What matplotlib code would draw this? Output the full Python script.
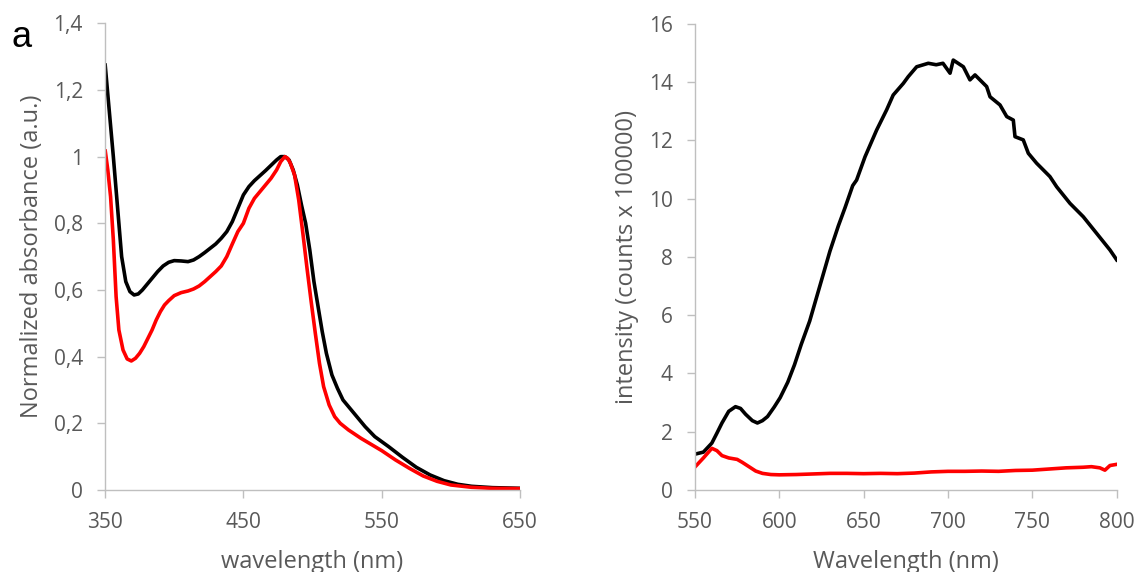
import matplotlib
matplotlib.use('Agg')
import matplotlib.pyplot as plt
from matplotlib.ticker import FuncFormatter

# --- absorbance (left panel) ---
abs_x_black = [350, 353, 356, 359, 362, 365, 368, 371, 374, 377, 380, 384, 388, 392, 396,
               400, 405, 410, 414, 418, 422, 426, 430, 434, 438, 442, 446, 450, 454, 458,
               462, 466, 470, 474, 477, 480, 483, 486, 489, 492, 495, 498, 501, 504, 507,
               510, 514, 518, 522, 526, 532, 538, 545, 555, 565, 575, 585, 595, 605, 615,
               630, 650]
abs_y_black = [1.28, 1.14, 1.0, 0.85, 0.70, 0.625, 0.595, 0.585, 0.588, 0.60, 0.615, 0.635,
               0.655, 0.672, 0.683, 0.688, 0.687, 0.685, 0.69, 0.70, 0.712, 0.725, 0.738,
               0.755, 0.775, 0.805, 0.845, 0.885, 0.91, 0.928, 0.943, 0.958, 0.974, 0.99,
               1.0, 1.0, 0.99, 0.96, 0.915, 0.855, 0.80, 0.72, 0.625, 0.55, 0.475, 0.41,
               0.345, 0.305, 0.27, 0.25, 0.22, 0.19, 0.16, 0.13, 0.098, 0.068, 0.045,
               0.028, 0.017, 0.011, 0.007, 0.005]

abs_x_red = [350, 352, 354, 356, 358, 360, 363, 366, 369, 372, 375, 378, 381, 384, 387,
             390, 393, 396, 400, 405, 410, 414, 418, 422, 426, 430, 434, 438, 442, 446,
             450, 454, 458, 462, 466, 470, 474, 477, 480, 482, 484, 487, 490, 493, 496,
             499, 502, 505, 508, 512, 516, 520, 526, 535, 550, 560, 570, 580, 590, 600,
             615, 630, 650]
abs_y_red = [1.022, 0.96, 0.88, 0.75, 0.58, 0.48, 0.42, 0.393, 0.387, 0.395, 0.41, 0.43,
             0.455, 0.48, 0.51, 0.535, 0.555, 0.568, 0.583, 0.592, 0.597, 0.603, 0.612,
             0.625, 0.64, 0.655, 0.672, 0.70, 0.738, 0.775, 0.80, 0.845, 0.875, 0.895,
             0.915, 0.935, 0.96, 0.985, 1.0, 0.995, 0.98, 0.945, 0.87, 0.77, 0.665,
             0.565, 0.47, 0.38, 0.31, 0.255, 0.22, 0.20, 0.18, 0.155, 0.118, 0.09,
             0.065, 0.042, 0.026, 0.015, 0.008, 0.005, 0.004]

# --- emission (right panel) ---
em_x_black = [550, 555, 560, 563, 566, 570, 574, 577, 580, 584, 587, 590, 593, 597, 600.5,
              605, 609, 613, 618, 622, 626, 630, 635, 639, 643.5, 645.8, 650.8, 657.7,
              663.6, 667.5, 673.5, 676.4, 681.4, 688.3, 693, 697, 701.2, 703.1, 709.1,
              713, 716, 722.9, 724.9, 730.8, 734.8, 738.7, 739.7, 744.6, 747.6, 752.5,
              760.4, 764.4, 772.3, 780.2, 788.1, 796, 800]
em_y_black = [1.23, 1.3, 1.61, 1.95, 2.3, 2.7, 2.86, 2.8, 2.6, 2.38, 2.3, 2.38, 2.52, 2.85,
              3.17, 3.7, 4.3, 5.0, 5.8, 6.6, 7.4, 8.2, 9.07, 9.7, 10.45, 10.64, 11.44,
              12.36, 13.05, 13.56, 13.96, 14.19, 14.53, 14.65, 14.6, 14.65, 14.31, 14.76,
              14.53, 14.08, 14.25, 13.85, 13.5, 13.22, 12.82, 12.7, 12.13, 12.02, 11.56,
              11.22, 10.76, 10.41, 9.84, 9.38, 8.81, 8.24, 7.9]

em_x_red = [550, 555, 560, 563, 566, 570, 575, 578, 582, 586, 590, 595, 600, 610, 620, 630,
            640, 650, 660, 670, 680, 690, 700, 710, 720, 730, 740, 750, 760, 770, 780,
            785, 790, 793, 796, 800]
em_y_red = [0.79, 1.1, 1.43, 1.35, 1.18, 1.1, 1.05, 0.95, 0.8, 0.65, 0.57, 0.53, 0.52, 0.53,
            0.55, 0.57, 0.57, 0.56, 0.57, 0.56, 0.58, 0.62, 0.64, 0.64, 0.65, 0.64, 0.67,
            0.68, 0.72, 0.76, 0.78, 0.80, 0.76, 0.68, 0.84, 0.88]

abs_xticks = [350, 450, 550, 650]
abs_yticks = [0, 0.2, 0.4, 0.6, 0.8, 1.0, 1.2, 1.4]
em_xticks = [550, 600, 650, 700, 750, 800]
em_yticks = [0, 2, 4, 6, 8, 10, 12, 14, 16]

GRAY_TXT = '#595959'
GRAY_AX = '#BFBFBF'
plt.rcParams['font.family'] = ['Open Sans', 'DejaVu Sans']


def comma(v, pos):
    s = ('%.1f' % v).rstrip('0').rstrip('.')
    return s.replace('.', ',')


def style(ax):
    for s in ['top', 'right']:
        ax.spines[s].set_visible(False)
    for s in ['left', 'bottom']:
        ax.spines[s].set_color(GRAY_AX)
        ax.spines[s].set_linewidth(1.0)
    ax.tick_params(axis='both', colors=GRAY_AX, labelcolor=GRAY_TXT,
                   labelsize=15, length=6, width=1.0, pad=10)


fig = plt.figure(figsize=(11.38, 5.72), dpi=100)

ax1 = fig.add_axes([0.0923, 0.1434, 0.3647, 0.8159])
ax1.plot(abs_x_black, abs_y_black, color='black', lw=2.6, solid_capstyle='butt')
ax1.plot(abs_x_red, abs_y_red, color='#FF0000', lw=2.6, solid_capstyle='butt')
ax1.set_xlim(350, 650)
ax1.set_ylim(0, 1.4)
ax1.set_xticks(abs_xticks)
ax1.set_yticks(abs_yticks)
ax1.yaxis.set_major_formatter(FuncFormatter(comma))
style(ax1)
ax1.set_xlabel('wavelength (nm)', fontsize=17, color=GRAY_TXT, labelpad=12)
ax1.set_ylabel('Normalized absorbance (a.u.)', fontsize=17, color=GRAY_TXT, labelpad=7)

ax2 = fig.add_axes([0.6107, 0.1434, 0.3706, 0.8147])
ax2.plot(em_x_black, em_y_black, color='black', lw=2.6)
ax2.plot(em_x_red, em_y_red, color='#FF0000', lw=2.6)
ax2.set_xlim(550, 800)
ax2.set_ylim(0, 16)
ax2.set_xticks(em_xticks)
ax2.set_yticks(em_yticks)
style(ax2)
ax2.set_xlabel('Wavelength (nm)', fontsize=17, color=GRAY_TXT, labelpad=12)
ax2.set_ylabel('intensity (counts x 100000)', fontsize=17, color=GRAY_TXT, labelpad=7)

fig.text(0.010, 0.918, 'a', fontsize=26, color='black', family='Liberation Sans')

fig.savefig('out.png', dpi=100)
